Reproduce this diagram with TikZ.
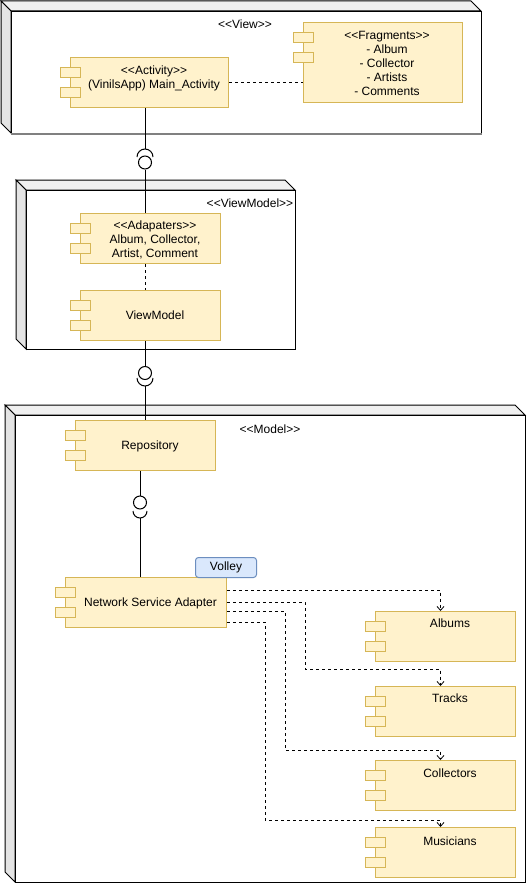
\documentclass[tikz,border=0pt]{standalone}
\usepackage{fontspec}
\setmainfont{Liberation Sans}[Ligatures=TeXOff]
\usetikzlibrary{calc,arrows.meta}
\definecolor{compfill}{HTML}{FFF2CC}
\definecolor{compdraw}{HTML}{D6B656}
\definecolor{volfill}{HTML}{DAE8FC}
\definecolor{voldraw}{HTML}{6C8EBF}
\definecolor{topface}{HTML}{F0F0F0}
\definecolor{sideface}{HTML}{E4E4E4}
\newcommand{\ltlt}{\textless\kern0pt\textless}
\newcommand{\gtgt}{\textgreater\kern0pt\textgreater}
\newcommand{\mycomp}[5]{%
  \node[compbox, minimum width=#4, minimum height=#5, anchor=north west] (#1) at (#2,#3) {};
  \node[tabbox, anchor=north west] (#1-ta) at ($(#1.north west)+(-10,10)$) {};
  \node[tabbox, anchor=north west] (#1-tb) at ($(#1.north west)+(-10,30)$) {};
}
\newcommand{\mycontainer}[7]{% name, x1, y1, x2, y2, w, h
  \filldraw[fill=topface] (#2,#3) -- ({#4-10},#3) -- (#4,{#3+10}) -- ({#2+10},{#3+10}) -- cycle;
  \filldraw[fill=sideface] (#2,#3) -- ({#2+10},{#3+10}) -- ({#2+10},#5) -- (#2,{#5-10}) -- cycle;
  \node[draw, fill=white, inner sep=0, anchor=north west, minimum width=#6, minimum height=#7] (#1) at ({#2+10},{#3+10}) {};
}
\newcommand{\sockcap}[3]{\draw ({#1-#3},#2) .. controls ({#1-#3},{#2-0.5523*#3}) and ({#1-0.5523*#3},{#2-#3}) .. (#1,{#2-#3}) .. controls ({#1+0.5523*#3},{#2-#3}) and ({#1+#3},{#2-0.5523*#3}) .. ({#1+#3},#2);}
\newcommand{\sockcup}[3]{\draw ({#1-#3},#2) .. controls ({#1-#3},{#2+0.5523*#3}) and ({#1-0.5523*#3},{#2+#3}) .. (#1,{#2+#3}) .. controls ({#1+0.5523*#3},{#2+#3}) and ({#1+#3},{#2+0.5523*#3}) .. ({#1+#3},#2);}
\begin{document}
\begin{tikzpicture}[x=1pt,y=-1pt,line width=1pt,
  compbox/.style={draw=compdraw, fill=compfill, line width=1pt, inner sep=0},
  tabbox/.style={compbox, minimum width=20, minimum height=10},
  txt/.style={font=\fontsize{12}{14}\selectfont, align=center, inner sep=0},
  volley/.style={draw=voldraw, fill=volfill, rounded corners=3pt, font=\fontsize{12}{14}\selectfont, inner sep=0},
  ifc/.style={circle, draw, fill=white, minimum size=13, inner sep=0, line width=1pt},
  dsh/.style={dash pattern=on 3pt off 3pt},
  dep/.style={dsh, line width=0.8pt, -{Straight Barb[length=4pt,width=7pt]}}]
\useasboundingbox (0,0) rectangle (527,883);

% containers
\mycontainer{view}{1}{1}{481}{133}{470}{122}
\draw[gray, line width=1.5pt] (view.south west) -- (view.south east);
\mycontainer{vmbox}{16}{180}{295}{349}{269}{159}
\mycontainer{model}{5}{405}{525}{882}{510}{467}

\node[txt] (lview) at (245,24) {\ltlt View\gtgt};
\node[txt] (lvm) at (250,203) {\ltlt ViewModel\gtgt};
\node[txt] (lmodel) at (270,429) {\ltlt Model\gtgt};

% components
\mycomp{act}{70}{57}{158}{50}
\node[txt] (act-l) at (154,78) {\ltlt Activity\gtgt\\(VinilsApp) Main\_Activity};
\mycomp{frag}{303}{22}{159}{80}
\node[txt] (frag-l) at (387,63) {\ltlt Fragments\gtgt\\- Album\\- Collector\\- Artists\\- Comments};
\mycomp{ad}{80}{213}{140}{50}
\node[txt] (ad-l) at (155,240) {\ltlt Adapaters\gtgt\\Album, Collector,\\Artist, Comment};
\mycomp{vm}{80}{290}{140}{50}
\node[txt] (vm-l) at (155,315) {ViewModel};
\mycomp{repo}{75}{420}{140}{50}
\node[txt] (repo-l) at (150,446) {Repository};
\mycomp{nsa}{65}{577}{161}{50}
\node[txt] (nsa-l) at (150.5,603) {Network Service Adapter};
\mycomp{alb}{375}{611}{140}{50}
\node[txt] (alb-l) at (450,623) {Albums};
\mycomp{trk}{375}{686}{140}{50}
\node[txt] (trk-l) at (450,698) {Tracks};
\mycomp{col}{375}{760}{140}{50}
\node[txt] (col-l) at (450,773) {Collectors};
\mycomp{mus}{375}{827}{140}{50}
\node[txt] (mus-l) at (450,841) {Musicians};
\node[volley, anchor=north west, minimum width=61, minimum height=20] (vol) at (195,557) {Volley};

% connectors
\draw[dsh] (act.east) -- (act.east -| frag.west);

\coordinate (s1) at (145,149);
\node[ifc] (if1) at (145,162.5) {};
\draw (act.south -| if1) -- (s1);
\sockcap{145}{157}{8}
\draw (if1.south) -- (ad.north -| if1);
\draw[dsh] (ad.south -| if1) -- (vm.north -| if1);

\node[ifc] (if2) at (145,373) {};
\draw (vm.south -| if2) -- (if2.north);
\sockcup{145}{378}{8}
\coordinate (s2) at (145,386);
\draw (s2) -- (s2 |- repo.north);

\node[ifc] (if3) at (140,502.5) {};
\draw (repo.south -| if3) -- (if3.north);
\sockcup{140}{511}{7}
\coordinate (s3) at (140,518);
\draw (s3) -- (s3 |- nsa.north);

\draw[dep] ($(nsa.north east)+(0,13)$) -| ($(alb.north)+(-5,0)$);
\draw[dep] ($(nsa.north east)+(0,25)$) -| (305,669) -| ($(trk.north)+(-5,0)$);
\draw[dep] ($(nsa.north east)+(0,34)$) -| (285,750) -| ($(col.north)+(-5,0)$);
\draw[dep] ($(nsa.north east)+(0,45)$) -| (265,820) -| ($(mus.north)+(-5,0)$);
\end{tikzpicture}
\end{document}
